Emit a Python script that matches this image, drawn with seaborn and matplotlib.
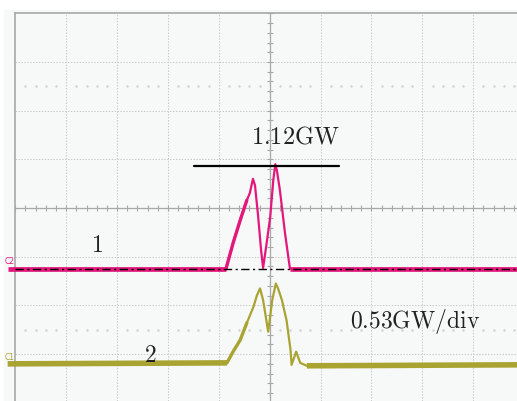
import numpy as np
import pandas as pd
import matplotlib
matplotlib.use("Agg")
import matplotlib.pyplot as plt
import seaborn as sns

# ---- data (oscilloscope divisions; x: time div, y: vertical div) ----
ch1_t = [-5.15, -0.86, -0.72, -0.58, -0.45, -0.39, -0.33, -0.29, -0.23, -0.17, -0.13,
         -0.06, 0.01, 0.07, 0.11, 0.14, 0.20, 0.30, 0.39, 0.40, 4.86]
ch1_v = [-1.25, -1.25, -0.72, -0.25, 0.16, 0.31, 0.60, 0.47, -0.14, -0.86, -1.23,
         -0.72, -0.18, 0.57, 0.90, 0.78, 0.37, -0.51, -1.19, -1.25, -1.25]
ch2_t = [-5.15, -0.84, -0.72, -0.58, -0.45, -0.32, -0.25, -0.19, -0.13, -0.03, 0.05,
         0.12, 0.16, 0.24, 0.33, 0.41, 0.43, 0.52, 0.60, 0.73, 4.86]
ch2_v = [-3.20, -3.18, -2.95, -2.71, -2.36, -2.03, -1.79, -1.65, -1.89, -2.54, -1.89,
         -1.55, -1.64, -1.89, -2.30, -2.92, -3.22, -2.95, -3.18, -3.24, -3.22]
ch1_base = -1.25
peak_level = 0.87
peak_span = [-1.48, 1.36]
peak_label = "1.12GW"
scale_label = "0.53GW/div"
trace_labels = ["1", "2"]
channel_tags = ["C2", "C1"]

magenta = "#e3177c"
olive = "#a9a432"

W, H = 517, 401
fig = plt.figure(figsize=(W / 100, H / 100), dpi=100)
sns.set_style("white")
plt.rcParams["mathtext.fontset"] = "cm"

# light screen background
bg = matplotlib.patches.Rectangle((4 / W, 0), 1, (H - 10) / H,
                                  transform=fig.transFigure, color="#f7f8f8", zorder=-10)
fig.patches.append(bg)

left_px, top_px = 15.3, 13.3
ax = fig.add_axes([left_px / W, 0, (W - left_px) / W, (H - top_px) / H])
ax.set_zorder(5)
ax.set_facecolor("#f7f8f8")
ax.set_xlim(-5, 4.86)
ax.set_ylim(-3.963, 4.0)
for s in ["right", "bottom"]:
    ax.spines[s].set_visible(False)
for s in ["left", "top"]:
    ax.spines[s].set_color("#a8a8a8")
    ax.spines[s].set_linewidth(1.2)
ax.set_xticks([]); ax.set_yticks([])

# graticule
grid_kw = dict(color="#c8caca", lw=0.7, ls=(0, (1.5, 1.5)), zorder=1)
for gx in range(-4, 5):
    if gx != 0:
        ax.axvline(gx, **grid_kw)
for gy in range(-3, 4):
    if gy != 0:
        ax.axhline(gy, **grid_kw)
ax.axvline(0, color="#a8a8a8", lw=0.9, zorder=1)
ax.axhline(0, color="#a8a8a8", lw=0.9, zorder=1)
minor = np.arange(-5, 5.01, 0.2)
ax.plot(minor, np.zeros_like(minor), ls="none", marker="|", ms=4, mew=0.8, color="#a8a8a8", zorder=1)
minory = np.arange(-4, 4.01, 0.2)
ax.plot(np.zeros_like(minory), minory, ls="none", marker="_", ms=4, mew=0.8, color="#a8a8a8", zorder=1)
for gy in (2.5, -2.5):
    pts = [p for p in np.arange(-4.8, 4.9, 0.2) if abs(p - round(p)) > 0.05]
    ax.plot(pts, [gy] * len(pts), ls="none", marker="s", ms=0.7, color="#cfd1d1", zorder=1)

# traces
df = pd.concat([
    pd.DataFrame({"t": ch1_t, "v": ch1_v, "ch": "1"}),
    pd.DataFrame({"t": ch2_t, "v": ch2_v, "ch": "2"}),
])
sns.lineplot(data=df, x="t", y="v", hue="ch", palette={"1": magenta, "2": olive},
             estimator=None, sort=False, lw=1.6, legend=False, ax=ax, zorder=3)
for tt, vv, col, w in [(ch1_t, ch1_v, magenta, 3.4), (ch2_t, ch2_v, olive, 4.0)]:
    for seg in [(tt[:2], vv[:2]), (tt[-2:], vv[-2:])]:
        ax.plot(seg[0], seg[1], color=col, lw=w, zorder=3, clip_on=False,
                solid_capstyle="butt")
    # rising edge is noisier/thicker
    ax.plot(tt[1:5], vv[1:5], color=col, lw=2.4, zorder=3, solid_capstyle="round")

# trigger / reference line
ax.axhline(ch1_base, color="black", lw=1.0, ls=(0, (6, 2.5, 1.5, 2.5)), zorder=4)
# peak marker line
ax.plot(peak_span, [peak_level, peak_level], color="black", lw=1.6, zorder=5)

txt = dict(color="#222222", ha="center", va="center", zorder=6)
ax.text(0.50, 1.46, r"$\mathrm{" + peak_label + "}$", fontsize=17.5, **txt)
ax.text(2.85, -2.33, r"$\mathrm{" + scale_label + "}$", fontsize=17, **txt)
ax.text(-3.40, -0.76, r"$\mathrm{" + trace_labels[0] + "}$", fontsize=17, **txt)
ax.text(-2.35, -3.02, r"$\mathrm{" + trace_labels[1] + "}$", fontsize=17, **txt)

fig.text(10 / W, 1 - 261 / H, channel_tags[0], fontsize=5.5, color=magenta,
         ha="center", va="center", zorder=20)
fig.text(10 / W, 1 - 358 / H, channel_tags[1], fontsize=5.5, color=olive,
         ha="center", va="center", zorder=20)

fig.savefig("out.png", dpi=100)
